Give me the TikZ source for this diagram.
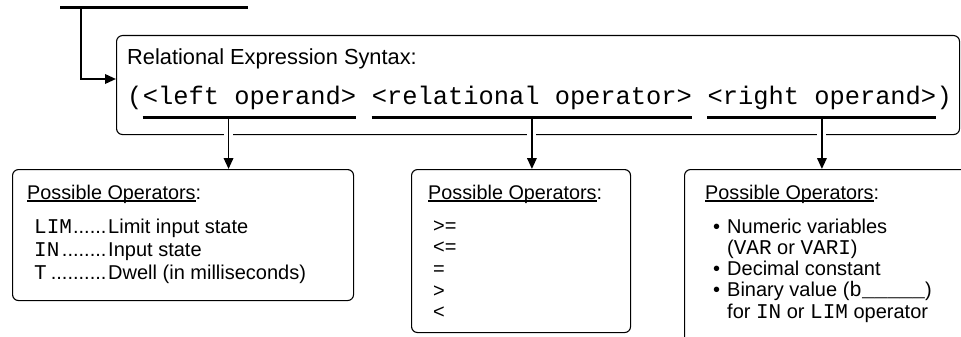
\documentclass[tikz,border=0pt]{standalone}
\usepackage{fontspec}
\setmainfont{Liberation Sans}
\setmonofont{Liberation Mono}
\usetikzlibrary{positioning, arrows.meta, calc}

\newsavebox\ulbox
\newcommand\ulin[1]{\sbox\ulbox{#1}\rlap{\rule[-2.8pt]{\wd\ulbox}{1.5pt}}\usebox\ulbox}
\newcommand\mono[1]{{\fontsize{21}{21}\selectfont\ttfamily #1}}
\newcommand\dotlbl[1]{\makebox[74pt][l]{\mono{#1}\leaders\hbox{.}\hfill}}

\begin{document}
\begin{tikzpicture}[
    x=1pt, y=-1pt,
    panel/.style={draw, line width=1.1pt, rounded corners=6pt, inner sep=0pt, anchor=north west},
    heading/.style={anchor=base west, inner sep=0pt, font=\fontsize{21.8}{24}\selectfont},
    syntax/.style={inner sep=0pt, font=\fontsize{25.4}{28}\ttfamily},
    boxtitle/.style={anchor=base west, inner sep=0pt, font=\fontsize{19.8}{22}\selectfont},
    item/.style={anchor=base west, inner sep=0pt, font=\fontsize{20}{22}\selectfont},
    bus/.style={line width=3pt},
    uline/.style={line width=3pt},
    arrow/.style={-{Triangle[length=11pt,width=9.5pt]}, line width=1.9pt},
    halo/.style={preaction={draw=white, line width=9pt, -, shorten <=9pt, shorten >=25pt}}
]
\useasboundingbox (0,0) rectangle (961,337);
\clip (0,0) rectangle (961,337);

% Incoming line
\coordinate (busL) at (60,8);
\coordinate (busR) at (248,8);
\coordinate (tap) at (81,8);
\draw[bus] (busL) -- (busR);

% Syntax panel
\node[panel, minimum width=843pt, minimum height=99pt] (synbox) at (116,35) {};
\node[heading] (synhead) at (127,64) {Relational Expression Syntax:};
\node[syntax, anchor=base west] (lpar) at (127,104) {(};
\node[syntax, base right=0pt of lpar] (lop) {<left operand>};
\node[syntax, base right=15.24pt of lop] (rop) {<relational operator>};
\node[syntax, base right=15.24pt of rop] (rgt) {<right operand>};
\node[syntax, base right=0pt of rgt] (rpar) {)};

% Operator panels
\node[panel, minimum width=341pt, minimum height=131pt] (lbox) at (12,169) {};
\node[panel, minimum width=219pt, minimum height=163pt] (mbox) at (411,169) {};
\node[panel, minimum width=300pt, minimum height=190pt] (rbox) at (684,169) {};

\node[boxtitle] (ltitle) at ([shift={(15,30)}]lbox.north west) {\ulin{Possible Operators}:};
\node[boxtitle] (mtitle) at ([shift={(17,30)}]mbox.north west) {\ulin{Possible Operators}:};
\node[boxtitle] (rtitle) at ([shift={(21,30)}]rbox.north west) {\ulin{Possible Operators}:};

% Left operands
\foreach \lbl/\txt [count=\i] in {LIM/Limit input state, IN/Input state, T/Dwell (in milliseconds)}
  \node[item] (litem\i) at ([shift={(22,41+23*\i)}]lbox.north west) {\dotlbl{\lbl}\txt};

% Relational operators
\foreach \op [count=\i] in {>=, <=, =, >, <}
  \node[item] (mitem\i) at ([shift={(22,41.3+21.7*\i)}]mbox.north west) {\op};

% Right operands
\node[item] (ritem1) at ([shift={(43,64)}]rbox.north west) {\llap{\textbullet\hspace{7pt}}Numeric variables};
\node[item] (ritem2) at ([shift={(43,85.3)}]rbox.north west) {(\mono{VAR} or \mono{VARI})};
\node[item] (ritem3) at ([shift={(43,106.6)}]rbox.north west) {\llap{\textbullet\hspace{7pt}}Decimal constant};
\node[item] (ritem4) at ([shift={(43,127.9)}]rbox.north west) {\llap{\textbullet\hspace{7pt}}Binary value (\mono{b\_\_\_\_\_})};
\node[item] (ritem5) at ([shift={(43,149.2)}]rbox.north west) {for \mono{IN} or \mono{LIM} operator};

% Arrows
\draw[arrow] (tap) |- (synbox.west |- 0,79);
\coordinate (lop-u) at ([xshift=-21pt,yshift=-13pt]lop.base);
\draw[arrow, halo] (lop-u) -- (lop-u |- lbox.north);
\draw[arrow, halo] ([yshift=-13pt]rop.base) -- (rop.base |- mbox.north);
\draw[arrow, halo] ([yshift=-13pt]rgt.base) -- (rgt.base |- rbox.north);

% Underlines
\foreach \n in {lop, rop, rgt}
  \draw[uline] ([yshift=-13pt]\n.base west) -- ([yshift=-13pt]\n.base east);

\end{tikzpicture}
\end{document}
